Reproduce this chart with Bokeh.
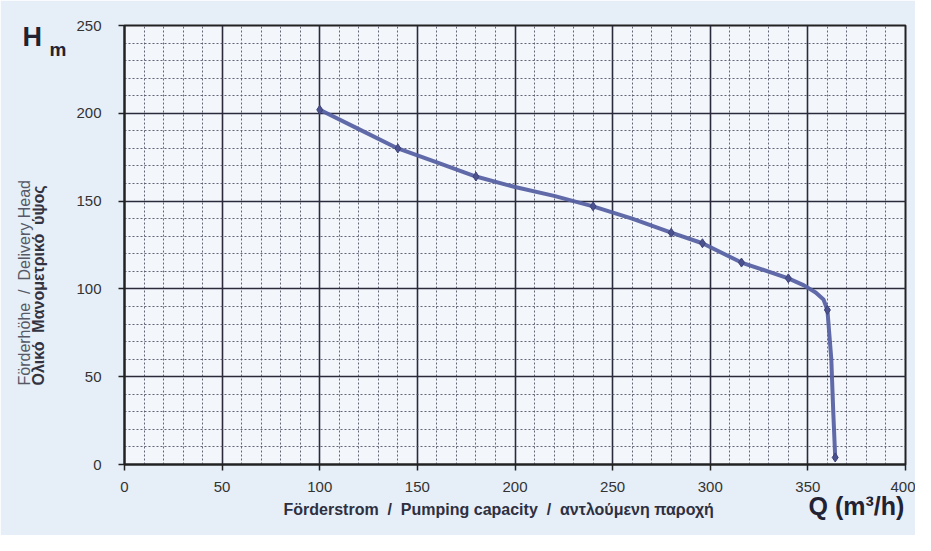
import math
from bokeh.plotting import figure
from bokeh.models import Range1d, SingleIntervalTicker, Title
from bokeh.embed import file_html
from bokeh.resources import INLINE

# Measured points (markers)
q_pts = [100, 140, 180, 240, 280, 296, 316, 340, 360, 364]
h_pts = [202, 180, 164, 147, 132, 126, 115, 106, 88, 4]

# Curve (line path)
q_curve = [100, 120, 140, 160, 180, 200, 220, 240, 260, 280, 296, 316, 340, 348, 354, 358, 360, 362, 363, 364]
h_curve = [202, 191, 180, 172, 164, 158, 153, 147, 140, 132, 126, 115, 106, 102, 98, 94, 88, 60, 30, 4]

x_ticks = [0, 50, 100, 150, 200, 250, 300, 350, 400]
y_ticks = [0, 50, 100, 150, 200, 250]

NB = "\u00a0"
FONT = "Liberation Sans"

p = figure(width=915, height=535, output_backend="svg", toolbar_location=None,
           x_range=Range1d(0, 400), y_range=Range1d(0, 250),
           min_border_left=124, min_border_right=10, min_border_top=25, min_border_bottom=71)

p.border_fill_color = "#e6eef8"
p.background_fill_color = "#f3f7fc"
p.outline_line_color = "#222222"
p.outline_line_width = 2

xt = SingleIntervalTicker(interval=50, num_minor_ticks=5)
yt = SingleIntervalTicker(interval=50, num_minor_ticks=5)
p.xaxis.ticker = xt
p.yaxis.ticker = yt
p.xgrid.ticker = xt
p.ygrid.ticker = yt

for g in (p.xgrid, p.ygrid):
    g.grid_line_color = "#2a2a3a"
    g.grid_line_width = 1.6
    g.grid_line_alpha = 1.0
    g.minor_grid_line_color = "#555566"
    g.minor_grid_line_width = 1
    g.minor_grid_line_dash = "2 2"
    g.minor_grid_line_alpha = 0.9

for ax in (p.xaxis, p.yaxis):
    ax.axis_line_color = "#222222"
    ax.axis_line_width = 2
    ax.major_tick_line_color = "#222222"
    ax.major_tick_line_width = 1.5
    ax.major_tick_out = 6
    ax.major_tick_in = 0
    ax.minor_tick_line_color = None
    ax.major_label_text_font = FONT
    ax.major_label_text_font_size = "15px"
    ax.major_label_text_color = "#333333"

p.xaxis.major_label_standoff = 11
p.yaxis.major_label_standoff = 17
# blank spacer label to leave room between tick labels and the side titles
p.yaxis.axis_label = NB
p.yaxis.axis_label_text_font_size = "12px"
p.yaxis.axis_label_standoff = 12

p.line(q_curve, h_curve, line_color="#5762a3", line_width=4, line_alpha=0.95)
p.scatter(q_pts, h_pts, marker="diamond", size=9, fill_color="#4c5290", line_color="#3d4278")

# Y axis titles (first added is closest to the frame)
p.add_layout(Title(text="Ολικό " + NB + "Μανομετρικό " + NB + "ύψος", align="left",
                   offset=79, standoff=-4, text_font=FONT, text_font_size="16px",
                   text_font_style="bold", text_color="#333340"), "left")
p.add_layout(Title(text="Förderhöhe " + NB + "/" + NB + " Delivery Head", align="left",
                   offset=79, standoff=-6, text_font=FONT, text_font_size="16px",
                   text_font_style="normal", text_color="#555a66"), "left")

# H m (above, pulled down beside the 250 tick)
p.add_layout(Title(text="H", align="left", offset=-102, standoff=-52,
                   text_font=FONT, text_font_size="27px", text_font_style="bold",
                   text_color="#222233"), "above")
p.add_layout(Title(text="m", align="left", offset=-75, standoff=-68,
                   text_font=FONT, text_font_size="19px", text_font_style="bold",
                   text_color="#222233"), "above")

# X axis titles
p.add_layout(Title(text="Förderstrom " + NB + "/" + NB + " Pumping capacity " + NB + "/" + NB + " αντλούμενη παροχή",
                   align="left", offset=159, standoff=8,
                   text_font=FONT, text_font_size="16px", text_font_style="bold",
                   text_color="#2e3040"), "below")
p.add_layout(Title(text="Q (m³/h)", align="left", offset=684, standoff=-60, vertical_align="top",
                   text_font=FONT, text_font_size="25px", text_font_style="bold",
                   text_color="#222233"), "below")

open("out.html", "w").write(file_html(p, INLINE))
